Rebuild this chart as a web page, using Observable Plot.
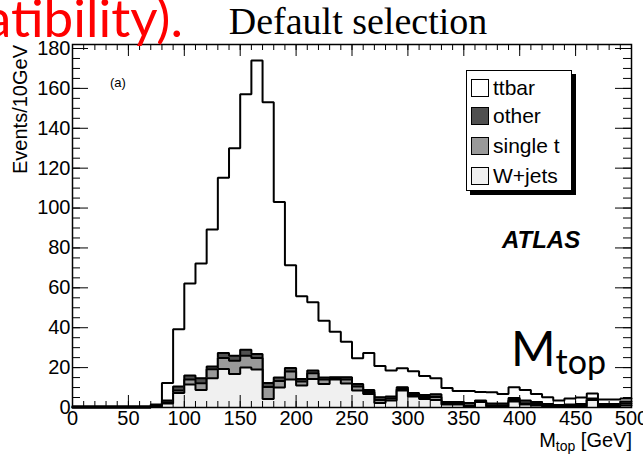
<!DOCTYPE html>
<html><head><meta charset="utf-8">
<script src="https://cdn.jsdelivr.net/npm/d3@7"></script>
<script src="https://cdn.jsdelivr.net/npm/@observablehq/plot@0.6"></script>
<style>
html,body{margin:0;padding:0;background:#fff;overflow:hidden;}
#wrap{position:relative;width:643px;height:454px;overflow:hidden;font-family:"Liberation Sans",Arial,sans-serif;color:#000;}
#wrap svg{position:absolute;left:0;top:0;}
.ov{position:absolute;white-space:nowrap;line-height:1;}
#legend{position:absolute;left:466px;top:70px;width:106px;height:121px;border:1.5px solid #000;background:#fff;box-shadow:4px 4px 0 #000;box-sizing:border-box;}
.lrow{position:absolute;left:4px;height:18px;}
.sw{position:absolute;left:0;top:0;width:18px;height:18px;border:1.5px solid #000;box-sizing:border-box;}
.lt{position:absolute;left:22px;top:-1px;font-size:21px;line-height:20px;white-space:nowrap;}
</style></head><body><div id="wrap"></div>
<script>
// bin lower edges (GeV), 10 GeV bins
const binLow = [0,10,20,30,40,50,60,70,80,90,100,110,120,130,140,150,160,170,180,190,200,210,220,230,240,250,260,270,280,290,300,310,320,330,340,350,360,370,380,390,400,410,420,430,440,450,460,470,480,490];
const binWidth = 10;
// stacked components (events / 10 GeV)
const wjets = [0,0,0,0,0,0,0,0.5, 2,7.3,11.5,8.8,14.7,19.3,16.8,20,19,4.3, 10,14,11,14.3,11.8,14,12,8.5,6.8,2.2, 3.5,8.5,5.5,4.3,3.8,1.5,1.5,0.3,2.7,0.5, 0.5,3,1.5,1,0.5,0.3,0.5,0.5,3.8,0.3,0.5,1];
const singleTop = [0,0,0,0,0,0,0,0, 0.5,1.2,2.5,3.4,4.5,5.5,6.7,6,5.8,6, 3.3,4,2,2.9,2.3,0.5,2,2,1,1.5, 1,0.8,0.8,1,1.5,0.5,0.5,0.5,0,0.5, 0.5,0.8,0.5,0.7,0.3,0.2,0.3,0.3,0.2,0.5,0.3,1];
const other = [0.3,0.3,0.3,0.3,0.3,0.3,0.3,0.5, 1,2,2,2.5,1.3,2.5,2.5,3,2,2, 1.7,1.8,1.3,1.3,1,0.7,1.2,1.3,1,1.5, 1,0.9,1,1,1.4,0.7,0.7,1.5,0.8,1, 1,1,1.5,1,1,0.8,0.7,1,0.5,1,1,1];
const ttbar = [0.3,0.3,0.3,0.3,0.3,0.3,0.3,0.5, 8.8,28.7,46.2,57.5,68.7,87.9,104,128,147.2,140.7, 88,51.5,41.5,34.3,28.4,22.8,17.8,12.9,18.5,15.6, 13,9.5,10.9,9.5,8,7.1,5.6,6,4.3,5.7, 4.8,5.4,5.3,4.1,3.4,2.2,3,3.2,2.5,2.2,2.2,1.5];

const xTicks = [0,50,100,150,200,250,300,350,400,450,500];
const yTicks = [0,20,40,60,80,100,120,140,160,180];
const xMinorStep = 10, yMinorStep = 5;

const W = 643, H = 454;
const mL = 72, mR = 12, mT = 44, mB = 47;
const fw = W - mL - mR, fh = H - mT - mB;

// cumulative layers (ROOT THStack style, drawn from top down)
const layers = [
  {name:"ttbar", comps:[wjets,singleTop,other,ttbar], fill:"#ffffff"},
  {name:"other", comps:[wjets,singleTop,other], fill:"#505050"},
  {name:"single t", comps:[wjets,singleTop], fill:"#999999"},
  {name:"W+jets", comps:[wjets], fill:"#f0f0f0"}
];
function stepPoints(comps){
  const pts = [];
  binLow.forEach((lo,i)=>{
    const v = comps.reduce((s,a)=>s+a[i],0);
    pts.push({x:lo, y0:0, y:v});
    pts.push({x:lo+binWidth, y0:0, y:v});
  });
  return pts;
}
const marks = [];
for (const L of layers){
  const pts = stepPoints(L.comps);
  marks.push(Plot.areaY(pts,{x:"x", y1:"y0", y2:"y", fill:L.fill, fillOpacity:1}));
  marks.push(Plot.line(pts,{x:"x", y:"y", stroke:"#000", strokeWidth:2, strokeLinejoin:"miter"}));
}
const xMinor = d3.range(0, 501, xMinorStep);
const yMinor = d3.range(0, 181, yMinorStep);
marks.push(
  Plot.tickX(xMinor,{x:d=>d, insetTop:fh-6, stroke:"#000", strokeWidth:1}),
  Plot.tickX(xTicks,{x:d=>d, insetTop:fh-12, stroke:"#000", strokeWidth:1}),
  Plot.tickX(xMinor,{x:d=>d, insetBottom:fh-6, stroke:"#000", strokeWidth:1}),
  Plot.tickX(xTicks,{x:d=>d, insetBottom:fh-12, stroke:"#000", strokeWidth:1}),
  Plot.tickY(yMinor,{y:d=>d, insetRight:fw-8, stroke:"#000", strokeWidth:1}),
  Plot.tickY(yTicks,{y:d=>d, insetRight:fw-16, stroke:"#000", strokeWidth:1}),
  Plot.tickY(yMinor,{y:d=>d, insetLeft:fw-8, stroke:"#000", strokeWidth:1}),
  Plot.tickY(yTicks,{y:d=>d, insetLeft:fw-16, stroke:"#000", strokeWidth:1}),
  Plot.frame({stroke:"#000", strokeWidth:1.5}),
  Plot.axisX({ticks:xTicks, tickSize:0, tickPadding:3, fontSize:20, tickFormat:d=>String(d), label:null}),
  Plot.axisY({ticks:yTicks, tickSize:0, tickPadding:2, fontSize:20, tickFormat:d=>String(d), label:null})
);
const chart = Plot.plot({
  width:W, height:H, marginLeft:mL, marginRight:mR, marginTop:mT, marginBottom:mB,
  x:{domain:[0,500]}, y:{domain:[0,182]},
  style:{fontFamily:"Liberation Sans, Arial, sans-serif", background:"transparent", color:"#000"},
  marks
});
const wrap = document.getElementById("wrap");
wrap.appendChild(chart);

function ov(html, css){
  const d = document.createElement("div");
  d.className = "ov"; d.innerHTML = html; d.style.cssText += css;
  wrap.appendChild(d); return d;
}
// slide fragment
ov("compatibility).", "right:460px;top:-10px;font-family:Lato,'Open Sans',sans-serif;font-size:53px;color:#ff0000;");
// title
ov("Default selection", "left:358px;top:2px;transform:translateX(-50%);font-family:'Liberation Serif','Times New Roman',serif;font-size:38px;");
// axis titles
ov("Events/10GeV", "left:10px;top:245px;width:200px;text-align:right;transform:rotate(-90deg);transform-origin:0 0;font-size:20px;");
ov("M<sub style='font-size:70%;vertical-align:-0.3em;'>top</sub> [GeV]", "right:11px;top:430px;font-size:20px;");
// annotations
ov("(a)", "left:110px;top:76px;font-size:13px;");
ov("ATLAS", "left:502px;top:228px;font-size:24px;font-weight:bold;font-style:italic;");
ov("M<span style='font-size:34px;position:relative;top:8px;'>top</span>", "left:511px;top:324px;font-family:Lato,'Open Sans',sans-serif;font-size:48px;");
// legend
const leg = document.createElement("div"); leg.id = "legend"; wrap.appendChild(leg);
const legTops = [8, 36, 66, 96];
[["ttbar","#ffffff"],["other","#505050"],["single t","#999999"],["W+jets","#f0f0f0"]].forEach(([t,c],i)=>{
  const r = document.createElement("div"); r.className="lrow"; r.style.top = legTops[i]+"px";
  r.innerHTML = `<div class="sw" style="background:${c}"></div><div class="lt">${t}</div>`;
  leg.appendChild(r);
});
</script></body></html>
